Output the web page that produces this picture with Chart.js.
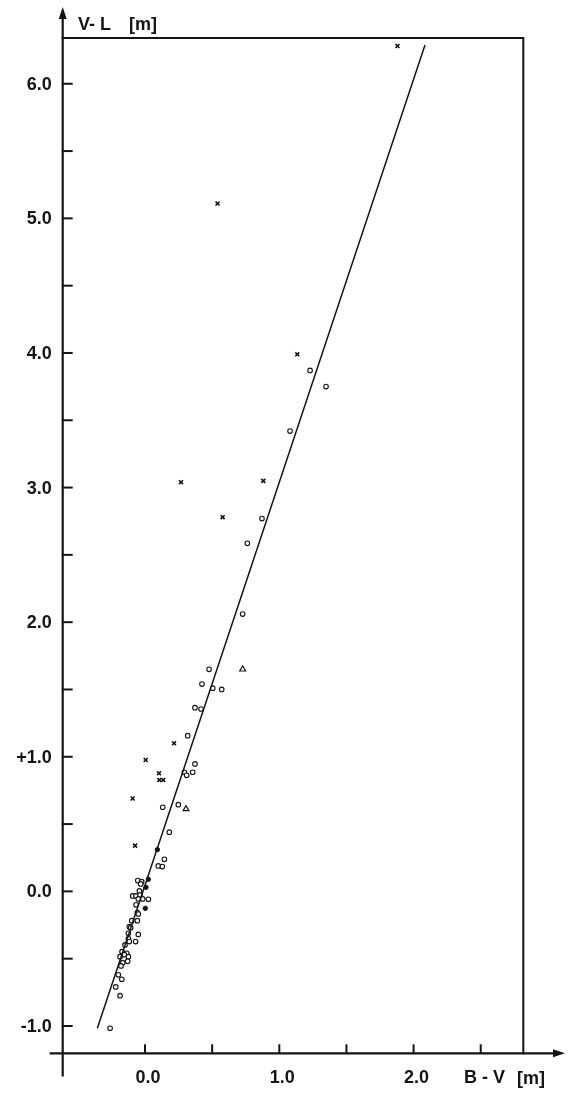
<!DOCTYPE html>
<html lang="en">
<head>
    <meta charset="UTF-8">
    <title>V-L against B-V</title>
    <script src="https://cdn.jsdelivr.net/npm/chart.js"></script>
    <style>
        body { margin: 0; background: #fff; }
        canvas { display: block; }
    </style>
</head>
<body>
    <canvas id="colourChart" width="570" height="1104"></canvas>

    <script>
// Values (B-V on x, V-L on y, both in magnitudes)
const circleX = [1.229, 1.348, 1.08, 0.871, 0.762, 0.727, 0.477, 0.424, 0.504, 0.571, 0.372, 0.417, 0.318,
    0.372, 0.293, 0.355, 0.31, 0.132, 0.248, 0.181, 0.144, 0.099, 0.129, -0.054, -0.025, -0.032, -0.042,
    -0.092, -0.067, -0.037, -0.017, 0.025, -0.05, -0.067, -0.057, -0.05, -0.099, -0.057, -0.117, -0.107,
    -0.05, -0.124, -0.124, -0.07, -0.117, -0.149, -0.171, -0.136, -0.186, -0.154, -0.124, -0.129, -0.166,
    -0.179, -0.199, -0.173, -0.218, -0.186, -0.26];
const circleY = [3.87, 3.75, 3.42, 2.77, 2.586, 2.06, 1.65, 1.54, 1.51, 1.50, 1.365, 1.355, 1.157,
    0.947, 0.885, 0.885, 0.862, 0.625, 0.644, 0.44, 0.238, 0.189, 0.184, 0.08, 0.072, 0.055, 0.003,
    -0.034, -0.034, -0.027, -0.056, -0.059, -0.056, -0.10, -0.158, -0.168, -0.218, -0.218, -0.262, -0.27,
    -0.32, -0.312, -0.35, -0.373, -0.373, -0.398, -0.448, -0.46, -0.485, -0.47, -0.485, -0.52, -0.53,
    -0.554, -0.62, -0.653, -0.71, -0.775, -1.017];

const dotX = [0.092, 0.025, 0.007, 0.002];
const dotY = [0.31, 0.09, 0.03, -0.126];

const crossX = [1.88, 0.54, 1.134, 0.881, 0.268, 0.578, 0.216, 0.005, 0.104, 0.107, 0.136, -0.092, -0.074];
const crossY = [6.28, 5.11, 3.99, 3.05, 3.04, 2.78, 1.10, 0.976, 0.877, 0.828, 0.828, 0.69, 0.34];

const triangleX = [0.727, 0.305];
const triangleY = [1.65, 0.612];

// fitted line, end points
const fitX = [-0.355, 2.085];
const fitY = [-1.017, 6.288];

// axes
const xTicks = [0, 0.5, 1, 1.5, 2, 2.5];
const xLabelValues = [0, 1, 2];
const xLabels = ['0.0', '1.0', '2.0'];
const yTicks = [-1, -0.5, 0, 0.5, 1, 1.5, 2, 2.5, 3, 3.5, 4, 4.5, 5, 5.5, 6];
const yLabelValues = [-1, 0, 1, 2, 3, 4, 5, 6];
const yLabels = ['-1.0', '0.0', '+1.0', '2.0', '3.0', '4.0', '5.0', '6.0'];

const INK = '#141414';
const FONT = 'bold 18px "Liberation Sans", Arial, sans-serif';

function toPoints(xs, ys) {
  return xs.map((x, i) => ({ x: x, y: ys[i] }));
}

// draws the box, arrowed axes, inward ticks and the labels
const axesPlugin = {
  id: 'axesPlugin',
  beforeDatasetsDraw(chart) {
    const c = chart.ctx;
    const a = chart.chartArea;
    const xs = chart.scales.x;
    const ys = chart.scales.y;

    c.save();
    c.strokeStyle = INK;
    c.fillStyle = INK;
    c.lineCap = 'square';

    // frame (top + right)
    c.lineWidth = 2;
    c.beginPath();
    c.moveTo(a.left, a.top);
    c.lineTo(a.right, a.top);
    c.lineTo(a.right, a.bottom);
    c.stroke();

    // y axis with arrow
    c.lineWidth = 2.2;
    c.beginPath();
    c.moveTo(a.left, a.bottom + 22);
    c.lineTo(a.left, 14);
    c.stroke();
    c.beginPath();
    c.moveTo(a.left, 7);
    c.lineTo(a.left - 4, 19);
    c.lineTo(a.left + 4, 19);
    c.closePath();
    c.fill();

    // x axis with arrow
    c.beginPath();
    c.moveTo(a.left - 12, a.bottom);
    c.lineTo(558, a.bottom);
    c.stroke();
    c.beginPath();
    c.moveTo(565, a.bottom);
    c.lineTo(553, a.bottom - 4);
    c.lineTo(553, a.bottom + 4);
    c.closePath();
    c.fill();

    // ticks
    c.lineWidth = 2;
    c.lineCap = 'butt';
    yTicks.forEach(v => {
      const py = ys.getPixelForValue(v);
      c.beginPath();
      c.moveTo(a.left, py);
      c.lineTo(a.left + 10, py);
      c.stroke();
    });
    xTicks.forEach(v => {
      const px = xs.getPixelForValue(v);
      c.beginPath();
      c.moveTo(px, a.bottom);
      c.lineTo(px, a.bottom - 9);
      c.stroke();
    });

    // tick labels
    c.font = FONT;
    c.textBaseline = 'middle';
    c.textAlign = 'right';
    yLabelValues.forEach((v, i) => {
      c.fillText(yLabels[i], a.left - 11, ys.getPixelForValue(v) + 1);
    });
    c.textAlign = 'center';
    xLabelValues.forEach((v, i) => {
      c.fillText(xLabels[i], xs.getPixelForValue(v) + 3, a.bottom + 25);
    });

    // axis titles
    c.textAlign = 'left';
    c.fillText('B - V', 464, a.bottom + 25);
    c.fillText('[m]', 517, a.bottom + 26);
    c.fillText('V- L', 78, 25);
    c.fillText('[m]', 129, 25);

    c.restore();
  }
};

const ctx = document.getElementById('colourChart').getContext('2d');

new Chart(ctx, {
  type: 'scatter',
  data: {
    datasets: [
      {
        label: 'fit',
        type: 'line',
        data: toPoints(fitX, fitY),
        borderColor: INK,
        borderWidth: 1.5,
        pointRadius: 0,
        fill: false
      },
      {
        label: 'circles',
        data: toPoints(circleX, circleY),
        pointStyle: 'circle',
        pointRadius: 2.3,
        borderWidth: 1.1,
        borderColor: INK,
        backgroundColor: '#fff'
      },
      {
        label: 'dots',
        data: toPoints(dotX, dotY),
        pointStyle: 'circle',
        pointRadius: 2.2,
        borderWidth: 1,
        borderColor: INK,
        backgroundColor: INK
      },
      {
        label: 'crosses',
        data: toPoints(crossX, crossY),
        pointStyle: 'crossRot',
        pointRadius: 2.8,
        borderWidth: 1.6,
        borderColor: INK
      },
      {
        label: 'triangles',
        data: toPoints(triangleX, triangleY),
        pointStyle: 'triangle',
        pointRadius: 3.4,
        borderWidth: 1.2,
        borderColor: INK,
        backgroundColor: '#fff'
      }
    ]
  },
  options: {
    responsive: false,
    animation: false,
    layout: {
      padding: { left: 62.7, right: 46.7, top: 38, bottom: 50.7 }
    },
    plugins: {
      legend: { display: false },
      tooltip: { enabled: false }
    },
    scales: {
      x: { type: 'linear', min: -0.613, max: 2.817, display: false },
      y: { type: 'linear', min: -1.203, max: 6.34, display: false }
    }
  },
  plugins: [axesPlugin]
});
    </script>
</body>
</html>
